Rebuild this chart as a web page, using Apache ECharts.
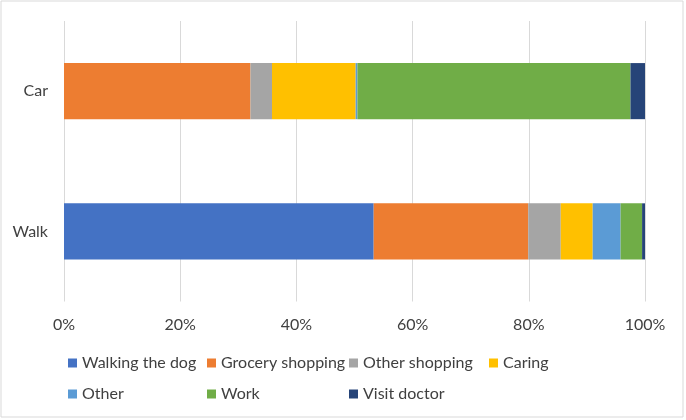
<!DOCTYPE html>
<html>
<head>
<meta charset="utf-8">
<script src="https://cdn.jsdelivr.net/npm/echarts@6/dist/echarts.min.js"></script>
<style>
html,body{margin:0;padding:0;background:#fff;}
#chart{width:686px;height:420px;}
</style>
</head>
<body>
<div id="chart"></div>
<script>
const categories = ['Walk', 'Car'];
const seriesNames = ['Walking the dog', 'Grocery shopping', 'Other shopping', 'Caring', 'Other', 'Work', 'Visit doctor'];
const walkingTheDog = [53.3, 0];
const groceryShopping = [26.6, 32.1];
const otherShopping = [5.6, 3.7];
const caring = [5.5, 14.4];
const other = [4.8, 0.3];
const work = [3.7, 47.0];
const visitDoctor = [0.5, 2.5];
const xTicks = [0, 20, 40, 60, 80, 100];

const seriesValues = [walkingTheDog, groceryShopping, otherShopping, caring, other, work, visitDoctor];
const colors = ['#4472C4', '#ED7D31', '#A5A5A5', '#FFC000', '#5B9BD5', '#70AD47', '#264478'];
const FONT = 'Lato, "Open Sans", sans-serif';

const legendPos = [
  [68, 355], [207, 355], [349, 355], [489, 355],
  [68, 386], [207, 386], [349, 386]
];

const chart = echarts.init(document.getElementById('chart'), null, {renderer: 'canvas'});
chart.setOption({
  animation: false,
  color: colors,
  graphic: [{
    type: 'rect', shape: {x: 1, y: 1, width: 682, height: 416},
    style: {fill: 'none', stroke: '#d9d9d9', lineWidth: 1}, silent: true
  }],
  legend: seriesNames.map((n, i) => ({
    data: [n], left: legendPos[i][0], top: legendPos[i][1], padding: 0,
    itemWidth: 9, itemHeight: 9, icon: 'rect',
    textStyle: {fontFamily: FONT, fontSize: 16, color: '#404040'}
  })),
  grid: {left: 64, right: 41, top: 21, bottom: 118.5, containLabel: false},
  xAxis: {
    type: 'value', min: 0, max: 100, interval: 20,
    axisLine: {show: false}, axisTick: {show: false},
    splitLine: {lineStyle: {color: '#d9d9d9', width: 1}},
    axisLabel: {
      margin: 15, fontFamily: FONT, fontSize: 16, color: '#404040',
      formatter: v => xTicks.includes(v) ? v + '%' : ''
    }
  },
  yAxis: {
    type: 'category', data: categories,
    axisLine: {show: false}, axisTick: {show: false},
    axisLabel: {margin: 16, fontFamily: FONT, fontSize: 16, color: '#404040'}
  },
  series: seriesNames.map((n, i) => ({
    name: n, type: 'bar', stack: 'total', barWidth: '40%',
    data: seriesValues[i]
  }))
});
</script>
</body>
</html>
